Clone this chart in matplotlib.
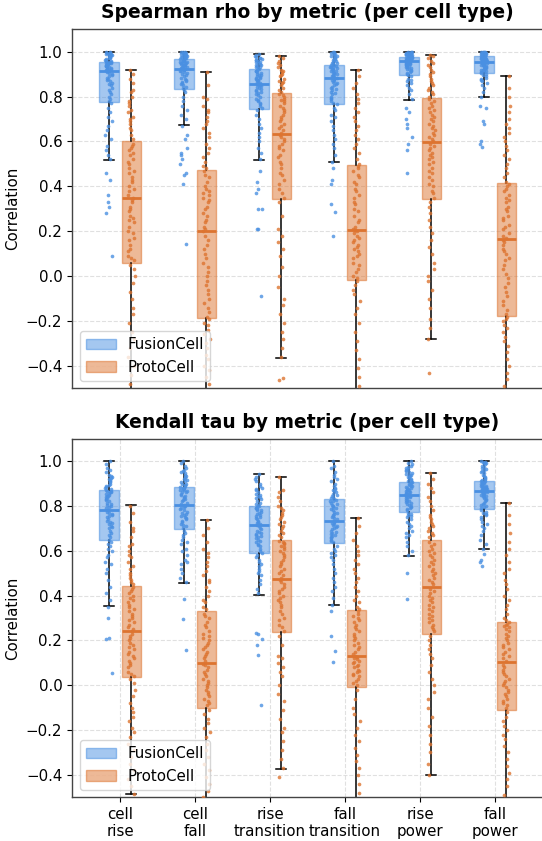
import numpy as np
import matplotlib
matplotlib.use("Agg")
import matplotlib.pyplot as plt
from matplotlib.patches import Patch
from matplotlib.colors import to_rgba

METRICS = ["cell\nrise", "cell\nfall", "rise\ntransition", "fall\ntransition", "rise\npower", "fall\npower"]
MODELS = ["FusionCell", "ProtoCell"]
TITLES = ["Spearman rho by metric (per cell type)", "Kendall tau by metric (per cell type)"]
Y_TICKS = [-0.4, -0.2, 0.0, 0.2, 0.4, 0.6, 0.8, 1.0]

# ---- box statistics (whisker low, q1, median, q3, whisker high) ----
SP_FUS_LO = [0.517, 0.672, 0.517, 0.508, 0.787, 0.799]
SP_FUS_Q1 = [0.775, 0.836, 0.745, 0.769, 0.897, 0.906]
SP_FUS_MED = [0.915, 0.925, 0.855, 0.882, 0.958, 0.953]
SP_FUS_Q3 = [0.955, 0.968, 0.924, 0.940, 0.977, 0.980]
SP_FUS_HI = [1.0, 1.0, 0.988, 1.0, 1.0, 1.0]
SP_PRO_LO = [-0.65, -0.70, -0.363, -0.70, -0.279, -0.70]
SP_PRO_Q1 = [0.060, -0.186, 0.343, -0.019, 0.345, -0.179]
SP_PRO_MED = [0.347, 0.202, 0.632, 0.206, 0.597, 0.164]
SP_PRO_Q3 = [0.600, 0.472, 0.815, 0.496, 0.794, 0.414]
SP_PRO_HI = [0.920, 0.910, 0.983, 0.918, 0.986, 0.892]

KT_FUS_LO = [0.353, 0.455, 0.403, 0.357, 0.577, 0.607]
KT_FUS_Q1 = [0.646, 0.698, 0.588, 0.634, 0.775, 0.787]
KT_FUS_MED = [0.784, 0.806, 0.713, 0.735, 0.850, 0.867]
KT_FUS_Q3 = [0.869, 0.885, 0.800, 0.830, 0.909, 0.913]
KT_FUS_HI = [1.0, 1.0, 0.943, 1.0, 1.0, 1.0]
KT_PRO_LO = [-0.487, -0.70, -0.372, -0.70, -0.40, -0.70]
KT_PRO_Q1 = [0.037, -0.100, 0.237, -0.006, 0.229, -0.112]
KT_PRO_MED = [0.244, 0.100, 0.473, 0.131, 0.439, 0.104]
KT_PRO_Q3 = [0.443, 0.333, 0.650, 0.335, 0.647, 0.284]
KT_PRO_HI = [0.804, 0.738, 0.930, 0.744, 0.946, 0.815]

# ---- per-cell-type points (Spearman rho) ----
SP_FUS_CELL_RISE = [0.09, 0.28, 0.31, 0.33, 0.36, 0.43, 0.46, 0.52, 0.54, 0.56, 0.58, 0.61, 0.63, 0.65, 0.67, 0.69, 0.71, 0.73, 0.75, 0.77,
                    0.78, 0.79, 0.80, 0.81, 0.82, 0.83, 0.84, 0.85, 0.855, 0.86, 0.87, 0.875, 0.88, 0.885, 0.89, 0.895, 0.90, 0.905, 0.91, 0.913,
                    0.917, 0.92, 0.922, 0.925, 0.928, 0.93, 0.932, 0.935, 0.937, 0.94, 0.942, 0.944, 0.946, 0.948, 0.95, 0.951, 0.952, 0.953, 0.954, 0.955,
                    0.957, 0.96, 0.962, 0.965, 0.967, 0.97, 0.972, 0.975, 0.977, 0.98, 0.982, 0.984, 0.986, 0.988, 0.99, 0.992, 0.994, 0.996, 0.998, 1.0]
SP_PRO_CELL_RISE = [-0.62, -0.58, -0.55, -0.51, -0.48, -0.44, -0.40, -0.36, -0.32, -0.28, -0.25, -0.21, -0.17, -0.14, -0.10, -0.07, -0.03, 0.0, 0.03, 0.05,
                    0.07, 0.08, 0.09, 0.11, 0.12, 0.14, 0.16, 0.17, 0.19, 0.20, 0.22, 0.24, 0.25, 0.26, 0.27, 0.29, 0.30, 0.31, 0.33, 0.34,
                    0.35, 0.36, 0.38, 0.39, 0.40, 0.42, 0.43, 0.44, 0.46, 0.47, 0.48, 0.50, 0.51, 0.52, 0.54, 0.55, 0.56, 0.57, 0.58, 0.59,
                    0.61, 0.63, 0.65, 0.66, 0.68, 0.69, 0.70, 0.71, 0.73, 0.74, 0.76, 0.77, 0.78, 0.80, 0.82, 0.83, 0.86, 0.88, 0.90, 0.92]
SP_FUS_CELL_FALL = [0.145, 0.41, 0.45, 0.46, 0.50, 0.52, 0.54, 0.55, 0.57, 0.61, 0.63, 0.67, 0.70, 0.72, 0.74, 0.76, 0.78, 0.80, 0.82, 0.83,
                    0.84, 0.845, 0.85, 0.855, 0.86, 0.865, 0.87, 0.875, 0.88, 0.885, 0.89, 0.895, 0.90, 0.905, 0.91, 0.913, 0.916, 0.919, 0.922, 0.924,
                    0.927, 0.93, 0.932, 0.935, 0.937, 0.94, 0.942, 0.944, 0.946, 0.948, 0.95, 0.952, 0.954, 0.956, 0.958, 0.96, 0.962, 0.964, 0.966, 0.968,
                    0.97, 0.972, 0.974, 0.975, 0.977, 0.978, 0.98, 0.981, 0.983, 0.984, 0.986, 0.987, 0.989, 0.99, 0.992, 0.994, 0.995, 0.997, 0.999, 1.0]
SP_PRO_CELL_FALL = [-0.68, -0.64, -0.60, -0.57, -0.54, -0.51, -0.48, -0.45, -0.42, -0.40, -0.37, -0.35, -0.32, -0.30, -0.28, -0.26, -0.24, -0.22, -0.21, -0.19,
                    -0.18, -0.16, -0.14, -0.12, -0.10, -0.08, -0.06, -0.04, -0.02, 0.0, 0.02, 0.04, 0.06, 0.08, 0.10, 0.12, 0.14, 0.16, 0.18, 0.20,
                    0.21, 0.22, 0.24, 0.25, 0.27, 0.28, 0.30, 0.31, 0.33, 0.34, 0.35, 0.36, 0.37, 0.38, 0.39, 0.40, 0.42, 0.44, 0.45, 0.47,
                    0.48, 0.49, 0.51, 0.53, 0.55, 0.57, 0.59, 0.62, 0.64, 0.66, 0.68, 0.69, 0.71, 0.73, 0.74, 0.76, 0.79, 0.80, 0.85, 0.91]
SP_FUS_RISE_TRANS = [-0.09, 0.21, 0.21, 0.30, 0.30, 0.37, 0.39, 0.42, 0.47, 0.52, 0.55, 0.57, 0.60, 0.62, 0.64, 0.66, 0.68, 0.70, 0.72, 0.74,
                     0.75, 0.76, 0.765, 0.77, 0.78, 0.785, 0.79, 0.80, 0.805, 0.81, 0.815, 0.82, 0.825, 0.83, 0.835, 0.84, 0.843, 0.847, 0.85, 0.853,
                     0.857, 0.86, 0.864, 0.868, 0.872, 0.875, 0.878, 0.882, 0.885, 0.888, 0.892, 0.895, 0.898, 0.902, 0.905, 0.909, 0.912, 0.916, 0.92, 0.923,
                     0.926, 0.93, 0.933, 0.936, 0.94, 0.943, 0.946, 0.95, 0.953, 0.956, 0.959, 0.962, 0.965, 0.968, 0.971, 0.974, 0.977, 0.98, 0.984, 0.988]
SP_PRO_RISE_TRANS = [-0.465, -0.455, -0.36, -0.32, -0.28, -0.25, -0.21, -0.17, -0.13, -0.10, -0.05, 0.0, 0.04, 0.09, 0.12, 0.15, 0.18, 0.21, 0.27, 0.33,
                     0.35, 0.37, 0.39, 0.41, 0.43, 0.45, 0.46, 0.48, 0.50, 0.51, 0.53, 0.54, 0.56, 0.57, 0.58, 0.59, 0.60, 0.61, 0.62, 0.63,
                     0.64, 0.65, 0.66, 0.67, 0.68, 0.69, 0.70, 0.71, 0.72, 0.73, 0.74, 0.75, 0.76, 0.77, 0.78, 0.785, 0.79, 0.80, 0.805, 0.81,
                     0.82, 0.83, 0.84, 0.85, 0.86, 0.865, 0.87, 0.88, 0.89, 0.895, 0.90, 0.91, 0.915, 0.92, 0.93, 0.94, 0.95, 0.96, 0.97, 0.98]
SP_FUS_FALL_TRANS = [0.18, 0.285, 0.32, 0.41, 0.43, 0.48, 0.51, 0.54, 0.57, 0.59, 0.61, 0.63, 0.65, 0.67, 0.69, 0.71, 0.72, 0.74, 0.75, 0.765,
                     0.77, 0.78, 0.79, 0.795, 0.80, 0.81, 0.815, 0.82, 0.83, 0.835, 0.84, 0.845, 0.85, 0.855, 0.86, 0.865, 0.87, 0.873, 0.877, 0.88,
                     0.885, 0.888, 0.891, 0.894, 0.897, 0.90, 0.903, 0.906, 0.909, 0.912, 0.915, 0.918, 0.921, 0.924, 0.927, 0.93, 0.932, 0.934, 0.937, 0.94,
                     0.943, 0.946, 0.949, 0.952, 0.955, 0.958, 0.961, 0.964, 0.967, 0.97, 0.973, 0.976, 0.979, 0.982, 0.985, 0.988, 0.991, 0.994, 0.997, 1.0]
SP_PRO_FALL_TRANS = [-0.69, -0.65, -0.61, -0.57, -0.53, -0.49, -0.45, -0.41, -0.37, -0.33, -0.29, -0.25, -0.21, -0.17, -0.14, -0.11, -0.08, -0.06, -0.04, -0.02,
                     -0.01, 0.0, 0.02, 0.03, 0.05, 0.06, 0.08, 0.09, 0.10, 0.11, 0.12, 0.13, 0.14, 0.15, 0.16, 0.17, 0.18, 0.19, 0.20, 0.205,
                     0.21, 0.22, 0.24, 0.25, 0.27, 0.29, 0.30, 0.32, 0.33, 0.35, 0.36, 0.38, 0.39, 0.41, 0.42, 0.44, 0.45, 0.47, 0.48, 0.49,
                     0.50, 0.52, 0.55, 0.57, 0.59, 0.61, 0.63, 0.65, 0.67, 0.69, 0.71, 0.73, 0.75, 0.77, 0.79, 0.81, 0.84, 0.86, 0.89, 0.92]
SP_FUS_RISE_POWER = [0.46, 0.56, 0.59, 0.62, 0.66, 0.68, 0.70, 0.73, 0.75, 0.79, 0.81, 0.83, 0.84, 0.85, 0.86, 0.87, 0.875, 0.88, 0.89, 0.895,
                     0.90, 0.905, 0.91, 0.915, 0.918, 0.921, 0.924, 0.927, 0.93, 0.933, 0.936, 0.939, 0.942, 0.944, 0.946, 0.948, 0.95, 0.952, 0.954, 0.956,
                     0.959, 0.96, 0.961, 0.962, 0.963, 0.964, 0.965, 0.966, 0.967, 0.968, 0.969, 0.97, 0.971, 0.972, 0.973, 0.974, 0.975, 0.976, 0.976, 0.977,
                     0.978, 0.979, 0.98, 0.981, 0.982, 0.983, 0.984, 0.985, 0.986, 0.987, 0.988, 0.989, 0.99, 0.991, 0.993, 0.994, 0.996, 0.997, 0.999, 1.0]
SP_PRO_RISE_POWER = [-0.43, -0.28, -0.23, -0.19, -0.14, -0.10, -0.06, -0.02, 0.0, 0.03, 0.06, 0.10, 0.13, 0.16, 0.19, 0.22, 0.25, 0.28, 0.31, 0.33,
                     0.35, 0.37, 0.38, 0.40, 0.41, 0.43, 0.44, 0.46, 0.47, 0.48, 0.50, 0.51, 0.52, 0.53, 0.54, 0.55, 0.56, 0.57, 0.58, 0.59,
                     0.60, 0.61, 0.62, 0.63, 0.64, 0.65, 0.66, 0.67, 0.68, 0.69, 0.70, 0.71, 0.72, 0.73, 0.74, 0.75, 0.76, 0.77, 0.78, 0.79,
                     0.80, 0.81, 0.82, 0.83, 0.84, 0.85, 0.86, 0.87, 0.88, 0.89, 0.90, 0.91, 0.92, 0.93, 0.94, 0.95, 0.96, 0.97, 0.98, 0.986]
SP_FUS_FALL_POWER = [0.576, 0.59, 0.60, 0.68, 0.69, 0.75, 0.76, 0.80, 0.82, 0.84, 0.85, 0.86, 0.87, 0.875, 0.88, 0.885, 0.89, 0.895, 0.90, 0.904,
                     0.908, 0.911, 0.914, 0.917, 0.92, 0.923, 0.926, 0.929, 0.932, 0.934, 0.936, 0.938, 0.94, 0.942, 0.944, 0.946, 0.948, 0.95, 0.951, 0.952,
                     0.954, 0.956, 0.957, 0.959, 0.96, 0.962, 0.963, 0.965, 0.966, 0.968, 0.969, 0.971, 0.972, 0.973, 0.974, 0.975, 0.976, 0.977, 0.978, 0.979,
                     0.981, 0.982, 0.983, 0.984, 0.985, 0.986, 0.987, 0.988, 0.989, 0.99, 0.991, 0.992, 0.993, 0.994, 0.995, 0.996, 0.997, 0.998, 0.999, 1.0]
SP_PRO_FALL_POWER = [-0.69, -0.65, -0.61, -0.57, -0.53, -0.49, -0.46, -0.43, -0.40, -0.37, -0.34, -0.31, -0.29, -0.27, -0.25, -0.23, -0.22, -0.20, -0.19, -0.18,
                     -0.17, -0.15, -0.13, -0.11, -0.09, -0.07, -0.05, -0.03, -0.01, 0.01, 0.03, 0.05, 0.07, 0.08, 0.10, 0.11, 0.12, 0.14, 0.15, 0.16,
                     0.17, 0.18, 0.19, 0.21, 0.22, 0.23, 0.25, 0.26, 0.27, 0.29, 0.30, 0.31, 0.33, 0.34, 0.35, 0.36, 0.38, 0.39, 0.40, 0.41,
                     0.42, 0.44, 0.46, 0.48, 0.50, 0.52, 0.54, 0.56, 0.58, 0.60, 0.62, 0.64, 0.66, 0.68, 0.70, 0.73, 0.76, 0.80, 0.84, 0.89]

# ---- per-cell-type points (Kendall tau) ----
KT_FUS_CELL_RISE = [0.055, 0.205, 0.21, 0.30, 0.35, 0.38, 0.41, 0.44, 0.47, 0.50, 0.52, 0.54, 0.55, 0.57, 0.58, 0.60, 0.61, 0.62, 0.63, 0.64,
                    0.65, 0.66, 0.67, 0.68, 0.69, 0.70, 0.705, 0.71, 0.72, 0.725, 0.73, 0.735, 0.74, 0.75, 0.755, 0.76, 0.765, 0.77, 0.775, 0.78,
                    0.79, 0.795, 0.80, 0.805, 0.81, 0.815, 0.82, 0.825, 0.83, 0.835, 0.84, 0.843, 0.846, 0.85, 0.853, 0.856, 0.86, 0.863, 0.866, 0.868,
                    0.872, 0.876, 0.88, 0.885, 0.89, 0.895, 0.90, 0.905, 0.91, 0.915, 0.92, 0.925, 0.93, 0.935, 0.94, 0.95, 0.96, 0.97, 0.985, 1.0]
KT_PRO_CELL_RISE = [-0.487, -0.45, -0.42, -0.38, -0.35, -0.32, -0.29, -0.26, -0.23, -0.21, -0.19, -0.16, -0.14, -0.12, -0.10, -0.08, -0.05, -0.02, 0.01, 0.03,
                    0.04, 0.05, 0.06, 0.08, 0.09, 0.10, 0.11, 0.12, 0.13, 0.14, 0.15, 0.16, 0.17, 0.18, 0.19, 0.20, 0.21, 0.22, 0.23, 0.24,
                    0.25, 0.26, 0.27, 0.28, 0.29, 0.30, 0.31, 0.32, 0.33, 0.34, 0.35, 0.36, 0.37, 0.38, 0.39, 0.40, 0.41, 0.42, 0.43, 0.44,
                    0.45, 0.46, 0.47, 0.48, 0.49, 0.50, 0.52, 0.53, 0.55, 0.57, 0.58, 0.60, 0.62, 0.63, 0.66, 0.69, 0.70, 0.73, 0.77, 0.80]
KT_FUS_CELL_FALL = [0.157, 0.297, 0.385, 0.46, 0.48, 0.50, 0.52, 0.54, 0.55, 0.56, 0.58, 0.60, 0.61, 0.63, 0.64, 0.65, 0.66, 0.67, 0.68, 0.69,
                    0.70, 0.71, 0.715, 0.72, 0.73, 0.735, 0.74, 0.745, 0.75, 0.755, 0.76, 0.765, 0.77, 0.775, 0.78, 0.785, 0.79, 0.795, 0.80, 0.804,
                    0.81, 0.815, 0.82, 0.825, 0.83, 0.835, 0.84, 0.845, 0.85, 0.855, 0.86, 0.863, 0.866, 0.869, 0.872, 0.875, 0.878, 0.88, 0.882, 0.884,
                    0.888, 0.892, 0.896, 0.90, 0.905, 0.91, 0.915, 0.92, 0.925, 0.93, 0.935, 0.94, 0.945, 0.95, 0.955, 0.96, 0.97, 0.98, 0.99, 1.0]
KT_PRO_CELL_FALL = [-0.68, -0.63, -0.58, -0.54, -0.50, -0.47, -0.44, -0.41, -0.38, -0.35, -0.32, -0.29, -0.26, -0.23, -0.21, -0.19, -0.17, -0.15, -0.13, -0.11,
                    -0.09, -0.08, -0.07, -0.06, -0.05, -0.04, -0.03, -0.02, -0.01, 0.0, 0.01, 0.02, 0.03, 0.04, 0.05, 0.06, 0.07, 0.08, 0.09, 0.095,
                    0.11, 0.12, 0.13, 0.14, 0.15, 0.16, 0.17, 0.18, 0.19, 0.20, 0.21, 0.22, 0.23, 0.24, 0.26, 0.27, 0.28, 0.30, 0.31, 0.32,
                    0.34, 0.35, 0.37, 0.38, 0.40, 0.42, 0.44, 0.46, 0.47, 0.49, 0.51, 0.53, 0.55, 0.57, 0.59, 0.61, 0.64, 0.67, 0.70, 0.738]
KT_FUS_RISE_TRANS = [-0.09, 0.135, 0.18, 0.205, 0.23, 0.235, 0.41, 0.43, 0.45, 0.47, 0.49, 0.50, 0.51, 0.52, 0.53, 0.54, 0.55, 0.56, 0.57, 0.58,
                     0.59, 0.60, 0.61, 0.62, 0.625, 0.63, 0.64, 0.645, 0.65, 0.655, 0.66, 0.665, 0.67, 0.675, 0.68, 0.685, 0.69, 0.695, 0.70, 0.71,
                     0.715, 0.72, 0.725, 0.73, 0.735, 0.74, 0.745, 0.75, 0.755, 0.76, 0.765, 0.77, 0.775, 0.78, 0.783, 0.786, 0.789, 0.792, 0.795, 0.798,
                     0.805, 0.81, 0.815, 0.82, 0.83, 0.835, 0.84, 0.845, 0.85, 0.855, 0.86, 0.87, 0.875, 0.88, 0.89, 0.90, 0.91, 0.92, 0.93, 0.943]
KT_PRO_RISE_TRANS = [-0.41, -0.37, -0.33, -0.29, -0.25, -0.21, -0.19, -0.15, -0.11, -0.07, -0.04, 0.0, 0.04, 0.06, 0.08, 0.10, 0.12, 0.13, 0.18, 0.22,
                     0.24, 0.26, 0.27, 0.29, 0.30, 0.32, 0.33, 0.35, 0.36, 0.37, 0.38, 0.39, 0.40, 0.41, 0.42, 0.43, 0.44, 0.45, 0.46, 0.47,
                     0.48, 0.49, 0.50, 0.51, 0.52, 0.53, 0.54, 0.55, 0.56, 0.57, 0.58, 0.59, 0.60, 0.61, 0.615, 0.62, 0.63, 0.635, 0.64, 0.645,
                     0.66, 0.67, 0.68, 0.69, 0.70, 0.71, 0.72, 0.73, 0.74, 0.75, 0.76, 0.77, 0.78, 0.79, 0.80, 0.82, 0.84, 0.86, 0.87, 0.93]
KT_FUS_FALL_TRANS = [0.103, 0.153, 0.221, 0.333, 0.36, 0.39, 0.42, 0.44, 0.46, 0.48, 0.50, 0.52, 0.54, 0.56, 0.57, 0.58, 0.59, 0.60, 0.61, 0.62,
                     0.64, 0.645, 0.65, 0.655, 0.66, 0.665, 0.67, 0.675, 0.68, 0.685, 0.69, 0.695, 0.70, 0.705, 0.71, 0.715, 0.72, 0.725, 0.73, 0.733,
                     0.74, 0.745, 0.75, 0.755, 0.76, 0.765, 0.77, 0.775, 0.78, 0.785, 0.79, 0.795, 0.80, 0.805, 0.81, 0.815, 0.82, 0.823, 0.826, 0.829,
                     0.835, 0.84, 0.845, 0.85, 0.855, 0.86, 0.865, 0.87, 0.875, 0.88, 0.89, 0.90, 0.91, 0.92, 0.93, 0.94, 0.95, 0.97, 0.98, 1.0]
KT_PRO_FALL_TRANS = [-0.69, -0.64, -0.60, -0.56, -0.52, -0.48, -0.44, -0.40, -0.37, -0.34, -0.31, -0.28, -0.25, -0.22, -0.19, -0.16, -0.13, -0.10, -0.06, -0.02,
                     0.0, 0.01, 0.02, 0.03, 0.04, 0.045, 0.05, 0.06, 0.065, 0.07, 0.08, 0.085, 0.09, 0.10, 0.105, 0.11, 0.115, 0.12, 0.125, 0.13,
                     0.14, 0.15, 0.16, 0.17, 0.18, 0.19, 0.20, 0.21, 0.22, 0.23, 0.24, 0.25, 0.26, 0.27, 0.28, 0.29, 0.30, 0.31, 0.32, 0.33,
                     0.34, 0.35, 0.37, 0.38, 0.40, 0.42, 0.44, 0.46, 0.48, 0.50, 0.52, 0.54, 0.56, 0.58, 0.60, 0.62, 0.65, 0.68, 0.71, 0.744]
KT_FUS_RISE_POWER = [0.385, 0.50, 0.58, 0.60, 0.62, 0.64, 0.66, 0.67, 0.68, 0.69, 0.70, 0.71, 0.72, 0.73, 0.74, 0.75, 0.755, 0.76, 0.765, 0.77,
                     0.78, 0.785, 0.79, 0.795, 0.80, 0.804, 0.808, 0.812, 0.816, 0.82, 0.824, 0.828, 0.832, 0.835, 0.838, 0.841, 0.844, 0.846, 0.848, 0.849,
                     0.852, 0.855, 0.858, 0.861, 0.864, 0.867, 0.87, 0.873, 0.876, 0.879, 0.882, 0.885, 0.888, 0.891, 0.894, 0.897, 0.90, 0.903, 0.906, 0.908,
                     0.912, 0.916, 0.92, 0.924, 0.928, 0.932, 0.936, 0.94, 0.944, 0.948, 0.952, 0.956, 0.96, 0.965, 0.97, 0.975, 0.98, 0.985, 0.99, 1.0]
KT_PRO_RISE_POWER = [-0.40, -0.35, -0.30, -0.26, -0.22, -0.18, -0.14, -0.10, -0.06, -0.03, 0.0, 0.03, 0.06, 0.09, 0.12, 0.14, 0.16, 0.18, 0.20, 0.22,
                     0.24, 0.25, 0.26, 0.27, 0.28, 0.29, 0.30, 0.31, 0.32, 0.33, 0.34, 0.35, 0.36, 0.37, 0.38, 0.39, 0.40, 0.41, 0.42, 0.43,
                     0.45, 0.46, 0.47, 0.48, 0.49, 0.50, 0.51, 0.52, 0.53, 0.54, 0.55, 0.56, 0.57, 0.58, 0.59, 0.60, 0.61, 0.62, 0.63, 0.64,
                     0.66, 0.67, 0.68, 0.69, 0.70, 0.71, 0.72, 0.73, 0.74, 0.75, 0.76, 0.78, 0.80, 0.82, 0.84, 0.86, 0.88, 0.90, 0.92, 0.946]
KT_FUS_FALL_POWER = [0.53, 0.55, 0.56, 0.585, 0.61, 0.63, 0.65, 0.67, 0.69, 0.70, 0.71, 0.72, 0.73, 0.74, 0.75, 0.76, 0.765, 0.77, 0.775, 0.78,
                     0.79, 0.795, 0.80, 0.805, 0.81, 0.815, 0.82, 0.825, 0.83, 0.835, 0.84, 0.843, 0.846, 0.849, 0.852, 0.855, 0.858, 0.861, 0.863, 0.865,
                     0.869, 0.871, 0.873, 0.875, 0.877, 0.879, 0.881, 0.883, 0.885, 0.887, 0.889, 0.891, 0.894, 0.897, 0.90, 0.903, 0.906, 0.908, 0.91, 0.912,
                     0.915, 0.92, 0.925, 0.93, 0.935, 0.94, 0.945, 0.95, 0.955, 0.96, 0.965, 0.97, 0.975, 0.98, 0.985, 0.99, 0.993, 0.996, 0.998, 1.0]
KT_PRO_FALL_POWER = [-0.69, -0.65, -0.61, -0.57, -0.53, -0.49, -0.45, -0.42, -0.39, -0.36, -0.33, -0.30, -0.27, -0.24, -0.22, -0.20, -0.18, -0.16, -0.14, -0.12,
                     -0.10, -0.09, -0.08, -0.07, -0.06, -0.05, -0.04, -0.03, -0.02, -0.01, 0.0, 0.01, 0.02, 0.03, 0.04, 0.05, 0.06, 0.07, 0.08, 0.09,
                     0.11, 0.12, 0.13, 0.14, 0.15, 0.16, 0.17, 0.18, 0.19, 0.20, 0.21, 0.22, 0.23, 0.24, 0.25, 0.26, 0.265, 0.27, 0.275, 0.28,
                     0.29, 0.30, 0.32, 0.34, 0.36, 0.38, 0.40, 0.43, 0.45, 0.47, 0.50, 0.52, 0.55, 0.58, 0.61, 0.64, 0.68, 0.72, 0.76, 0.815]

SP_FUS_POINTS = [SP_FUS_CELL_RISE, SP_FUS_CELL_FALL, SP_FUS_RISE_TRANS, SP_FUS_FALL_TRANS, SP_FUS_RISE_POWER, SP_FUS_FALL_POWER]
SP_PRO_POINTS = [SP_PRO_CELL_RISE, SP_PRO_CELL_FALL, SP_PRO_RISE_TRANS, SP_PRO_FALL_TRANS, SP_PRO_RISE_POWER, SP_PRO_FALL_POWER]
KT_FUS_POINTS = [KT_FUS_CELL_RISE, KT_FUS_CELL_FALL, KT_FUS_RISE_TRANS, KT_FUS_FALL_TRANS, KT_FUS_RISE_POWER, KT_FUS_FALL_POWER]
KT_PRO_POINTS = [KT_PRO_CELL_RISE, KT_PRO_CELL_FALL, KT_PRO_RISE_TRANS, KT_PRO_FALL_TRANS, KT_PRO_RISE_POWER, KT_PRO_FALL_POWER]

FUS_COLOR = "#4A90E2"
PRO_COLOR = "#DD7430"
FS = 10.8


def make_stats(lo, q1, med, q3, hi):
    return [dict(whislo=a, q1=b, med=c, q3=d, whishi=e, fliers=[])
            for a, b, c, d, e in zip(lo, q1, med, q3, hi)]


def jitter_offsets(n, seed):
    # deterministic horizontal scatter for strip points (layout only)
    k = np.arange(n) + 1.0 + seed * 13.0
    frac = np.abs(np.sin(k * 12.9898 + seed * 78.233) * 43758.5453) % 1.0
    return (frac - 0.5) * 0.09


def draw_panel(ax, title, fus_stats, pro_stats, fus_pts, pro_pts, xgrid):
    x = np.arange(len(METRICS))
    for j, (stats, pts, color, off) in enumerate([
            (fus_stats, fus_pts, FUS_COLOR, -0.15),
            (pro_stats, pro_pts, PRO_COLOR, 0.15)]):
        ax.bxp(stats, positions=x + off, widths=0.26, patch_artist=True,
               showfliers=False, manage_ticks=False,
               boxprops=dict(facecolor=to_rgba(color, 0.5), edgecolor=to_rgba(color, 0.55), linewidth=1),
               medianprops=dict(color=color, linewidth=2),
               whiskerprops=dict(color="black", linewidth=1.1),
               capprops=dict(color="black", linewidth=1.1),
               zorder=2)
        for i, vals in enumerate(pts):
            jit = jitter_offsets(len(vals), i + 7 * j)
            ax.scatter(x[i] + off + jit, vals, s=7, color=color, alpha=0.8,
                       linewidths=0, zorder=3)
    ax.set_xlim(-0.64, 5.64)
    ax.set_ylim(-0.5, 1.1)
    ax.set_yticks(Y_TICKS)
    ax.set_ylabel("Correlation", fontsize=FS)
    ax.set_title(title, fontsize=13.5, fontweight="bold", pad=8)
    ax.tick_params(axis="y", labelsize=FS)
    ax.grid(axis="y", linestyle="--", linewidth=0.8, color="#cccccc", alpha=0.6)
    if xgrid:
        ax.grid(axis="x", linestyle="--", linewidth=0.8, color="#cccccc", alpha=0.6)
        ax.set_xticks(x)
        ax.set_xticklabels(METRICS, fontsize=FS)
    else:
        ax.set_xticks(x)
        ax.tick_params(axis="x", length=0, labelbottom=False)
    ax.set_axisbelow(True)
    for s in ax.spines.values():
        s.set_color("#444444")
        s.set_linewidth(1.0)
    handles = [Patch(facecolor=to_rgba(FUS_COLOR, 0.5), edgecolor=to_rgba(FUS_COLOR, 0.55), label=MODELS[0]),
               Patch(facecolor=to_rgba(PRO_COLOR, 0.5), edgecolor=to_rgba(PRO_COLOR, 0.55), label=MODELS[1])]
    leg = ax.legend(handles=handles, loc="lower left", fontsize=FS, framealpha=0.8)
    leg.set_zorder(10)


fig = plt.figure(figsize=(5.42, 8.41), dpi=100)
ax1 = fig.add_axes([72 / 542, 1 - 388.3 / 841, 471 / 542, 359 / 841])
ax2 = fig.add_axes([72 / 542, 1 - 797.3 / 841, 471 / 542, 358.6 / 841])

draw_panel(ax1, TITLES[0],
           make_stats(SP_FUS_LO, SP_FUS_Q1, SP_FUS_MED, SP_FUS_Q3, SP_FUS_HI),
           make_stats(SP_PRO_LO, SP_PRO_Q1, SP_PRO_MED, SP_PRO_Q3, SP_PRO_HI),
           SP_FUS_POINTS, SP_PRO_POINTS, xgrid=False)
draw_panel(ax2, TITLES[1],
           make_stats(KT_FUS_LO, KT_FUS_Q1, KT_FUS_MED, KT_FUS_Q3, KT_FUS_HI),
           make_stats(KT_PRO_LO, KT_PRO_Q1, KT_PRO_MED, KT_PRO_Q3, KT_PRO_HI),
           KT_FUS_POINTS, KT_PRO_POINTS, xgrid=True)

fig.savefig("out.png", dpi=100)
